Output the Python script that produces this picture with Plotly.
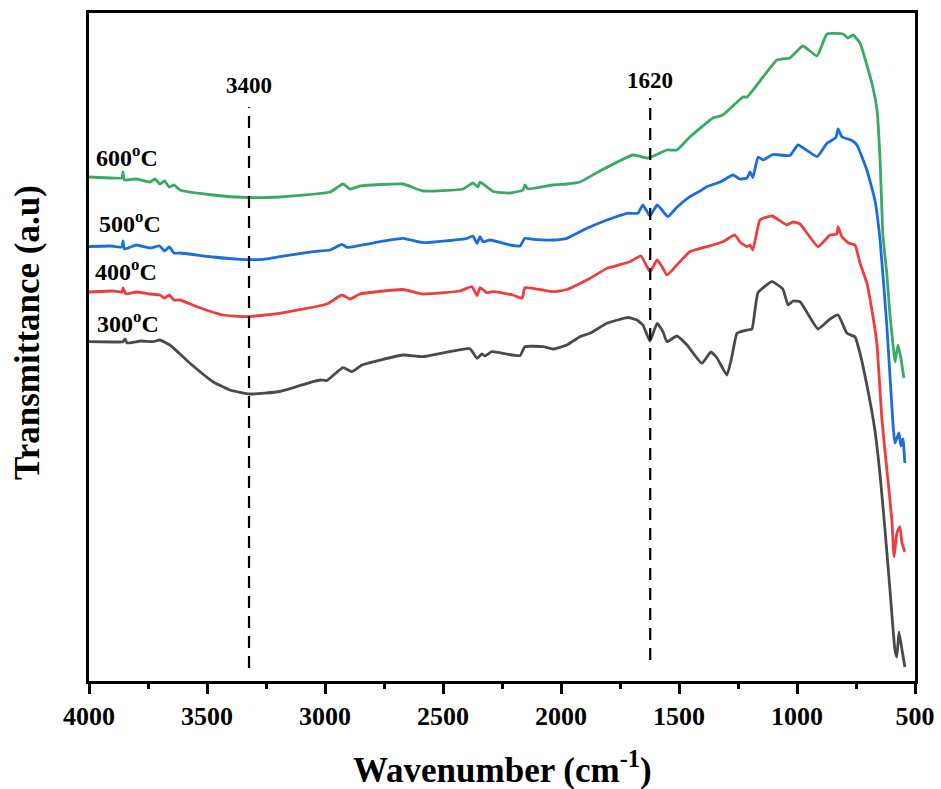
import plotly.graph_objects as go

# ---------------- data (wavenumber cm-1, transmittance a.u.) ----------------
series_names = ["600<sup>o</sup>C", "500<sup>o</sup>C", "400<sup>o</sup>C", "300<sup>o</sup>C"]
series_colors = ["#38aa64", "#1a6edc", "#ee3d3d", "#4a4a4a"]

green_600 = [(4000, 504), (3900, 503), (3860, 503), (3856, 509), (3850, 501), (3800, 502), (3742, 499),
             (3720, 502), (3700, 497), (3680, 500), (3660, 494), (3640, 496), (3614, 491), (3475, 486),
             (3331, 483.5), (3191, 484), (2979, 489), (2924, 497), (2894, 492), (2852, 495), (2670, 497),
             (2585, 490), (2415, 492), (2373, 498), (2352, 494), (2343, 499), (2288, 489.5), (2216, 488),
             (2161, 491), (2153, 496), (2140, 492), (2034, 496), (1975, 497), (1920, 499), (1835, 510),
             (1695, 526), (1632, 523), (1551, 531), (1509, 531), (1454, 544), (1356, 563), (1314, 566),
             (1229, 584), (1212, 584), (1144, 604), (1085, 621), (1030, 623), (975, 635), (915, 625),
             (873, 647), (805, 647), (784, 643), (763, 646), (733, 638), (704, 616), (678, 593),
             (661, 571), (648, 521), (636, 446), (619, 406), (606, 366), (593, 336), (585, 319),
             (572, 336), (560, 323), (547, 303)]

blue_500 = [(4000, 434.5), (3911, 435), (3860, 434), (3856, 440), (3850, 432), (3800, 436), (3742, 433),
            (3700, 435), (3680, 430), (3660, 434), (3640, 428), (3614, 428), (3475, 424), (3360, 421.7),
            (3263, 421.7), (3191, 424.3), (3051, 429.3), (2979, 431), (2928, 436.7), (2907, 433.7),
            (2767, 439.3), (2670, 442.7), (2585, 438.3), (2398, 442.7), (2373, 445), (2356, 437.7),
            (2343, 444.3), (2331, 439.3), (2301, 441), (2216, 436), (2174, 435), (2153, 442.7),
            (2119, 441.7), (2034, 441), (1975, 442.7), (1890, 452.7), (1805, 461), (1720, 467.7),
            (1674, 467.7), (1653, 476), (1623, 465), (1593, 476), (1572, 471), (1547, 464.3),
            (1509, 473.7), (1454, 484.3), (1411, 490), (1382, 494.3), (1326, 499), (1271, 506),
            (1242, 502), (1212, 503), (1199, 509), (1187, 503.5), (1165, 524), (1144, 521),
            (1102, 526.5), (1030, 525.5), (996, 536), (915, 524.3), (873, 537.7), (835, 543.5),
            (826, 552), (810, 544.3), (767, 540.5), (746, 536), (704, 511), (670, 481), (648, 441),
            (619, 354), (593, 256), (585, 238), (568, 248), (560, 235), (551, 242), (543, 218)]

red_400 = [(4000, 389), (3900, 390), (3860, 389), (3856, 393), (3843, 387), (3800, 389), (3742, 387),
           (3700, 386), (3680, 383), (3660, 386), (3640, 381), (3614, 381), (3542, 374.3), (3432, 366),
           (3331, 364.3), (3191, 367.7), (2992, 377), (2928, 386), (2894, 382), (2852, 387),
           (2670, 391.5), (2585, 387), (2428, 390), (2377, 394.3), (2356, 385.3), (2343, 393.3),
           (2314, 388.3), (2288, 389.3), (2204, 386), (2165, 382.7), (2153, 393.3), (2119, 392.7),
           (2034, 389.3), (1975, 391.5), (1877, 402.7), (1805, 412.7), (1708, 419.3), (1661, 425),
           (1623, 409.3), (1593, 421), (1572, 414.3), (1551, 406), (1509, 416), (1454, 429.3),
           (1382, 434.3), (1314, 439.3), (1263, 446), (1242, 439), (1212, 434.3), (1199, 436),
           (1187, 431), (1157, 461), (1106, 465), (1043, 456), (1017, 459), (987, 457), (911, 434.3),
           (860, 446), (831, 447), (826, 454.3), (810, 444.3), (784, 438.3), (754, 436), (733, 418),
           (704, 398), (678, 364.3), (661, 336), (640, 261), (619, 211), (598, 161), (589, 124.3),
           (577, 147.7), (564, 154.3), (555, 137.7), (543, 129.3)]

gray_300 = [(4000, 339.3), (3900, 339), (3856, 339.3), (3847, 342), (3839, 338), (3780, 340),
            (3729, 339.3), (3700, 341), (3657, 336), (3572, 317.7), (3475, 299.3), (3403, 291),
            (3318, 287), (3191, 289.5), (3051, 299.3), (3021, 301), (2992, 300.5), (2924, 313.3),
            (2886, 309.3), (2843, 316), (2670, 326), (2585, 324.3), (2386, 332.3), (2356, 322.7),
            (2335, 327), (2322, 325), (2293, 329.3), (2174, 325.3), (2153, 334.3), (2076, 334.3),
            (2034, 332), (1975, 336), (1920, 344.3), (1877, 347.7), (1805, 357.7), (1716, 363.5),
            (1678, 361), (1653, 356), (1623, 340), (1593, 357.7), (1568, 349.3), (1551, 339.3),
            (1509, 345), (1466, 336), (1403, 317.7), (1365, 329), (1339, 323), (1297, 306),
            (1276, 324.3), (1254, 347.7), (1212, 351), (1191, 352), (1165, 388.5), (1106, 399.3),
            (1060, 392), (1038, 376), (1017, 380), (987, 379.3), (911, 352), (860, 362), (826, 366),
            (788, 347.7), (754, 344), (733, 327.7), (704, 296), (670, 251), (648, 206), (627, 151),
            (606, 91), (585, 31), (577, 24), (568, 49), (555, 31), (543, 14)]

series_data = [green_600, blue_500, red_400, gray_300]

peak_positions = [3322, 1622]
peak_labels = ["3400", "1620"]

x_tick_vals = [4000, 3500, 3000, 2500, 2000, 1500, 1000, 500]
x_tick_text = ["4000", "3500", "3000", "2500", "2000", "1500", "1000", "500"]
x_minor_vals = [3750, 3250, 2750, 2250, 1750, 1250, 750]

FONT = "Liberation Serif, Times New Roman, serif"

fig = go.Figure()

for name, color, data in zip(series_names, series_colors, series_data):
    wn, val = zip(*data)
    fig.add_trace(go.Scatter(x=list(wn), y=list(val), mode="lines", name=name,
                             line=dict(color=color, width=2.8, shape="spline", smoothing=0.4),
                             hoverinfo="skip"))

# dashed reference lines
peak_y_bottom = [13, 21]
peak_y_top = [574, 583]
for pos, yb, yt in zip(peak_positions, peak_y_bottom, peak_y_top):
    fig.add_trace(go.Scatter(x=[pos, pos], y=[yb, yt], mode="lines",
                             line=dict(color="black", width=2.2, dash="12px,8px"),
                             hoverinfo="skip"))

annotations = []
label_y = [596, 601]
for pos, lab, ly in zip(peak_positions, peak_labels, label_y):
    annotations.append(dict(x=pos, y=ly, xref="x", yref="y", text=lab, showarrow=False,
                            font=dict(family=FONT, size=23, color="black", weight="bold"),
                            xanchor="center", yanchor="middle"))

series_label_pos = [(0.006, 0.786), (0.0097, 0.687), (0.005, 0.615), (0.0073, 0.537)]
for name, (lx, ly) in zip(series_names, series_label_pos):
    annotations.append(dict(x=lx, y=ly, xref="paper", yref="paper", text=name, showarrow=False,
                            font=dict(family=FONT, size=24, color="black", weight="bold"),
                            xanchor="left", yanchor="middle"))

annotations.append(dict(x=0.501, y=-0.130, xref="paper", yref="paper",
                        text="Wavenumber (cm<sup>-1</sup>)", showarrow=False,
                        font=dict(family=FONT, size=35, color="black", weight="bold"),
                        xanchor="center", yanchor="middle"))
annotations.append(dict(x=-0.0738, y=0.521, xref="paper", yref="paper",
                        text="Transmittance (a.u)", showarrow=False, textangle=-90,
                        font=dict(family=FONT, size=35, color="black", weight="bold"),
                        xanchor="center", yanchor="middle"))

fig.update_layout(
    width=941, height=789,
    margin=dict(l=89, r=26, t=13, b=108, autoexpand=False),
    plot_bgcolor="white", paper_bgcolor="white",
    showlegend=False,
    annotations=annotations,
    xaxis=dict(range=[4000, 500], tickmode="array", tickvals=x_tick_vals, ticktext=x_tick_text,
               ticks="outside", ticklen=10, tickwidth=3, tickcolor="black",
               showline=True, linewidth=3, linecolor="black", mirror=True,
               showgrid=False, zeroline=False, automargin=False,
               tickfont=dict(family=FONT, size=26, color="black", weight="bold"),
               minor=dict(tickmode="array", tickvals=x_minor_vals, ticks="outside",
                          ticklen=5, tickwidth=3, tickcolor="black", showgrid=False)),
    yaxis=dict(range=[0, 668], showticklabels=False, ticks="",
               showline=True, linewidth=3, linecolor="black", mirror=True,
               showgrid=False, zeroline=False, automargin=False),
)

fig.write_html("out.html")
